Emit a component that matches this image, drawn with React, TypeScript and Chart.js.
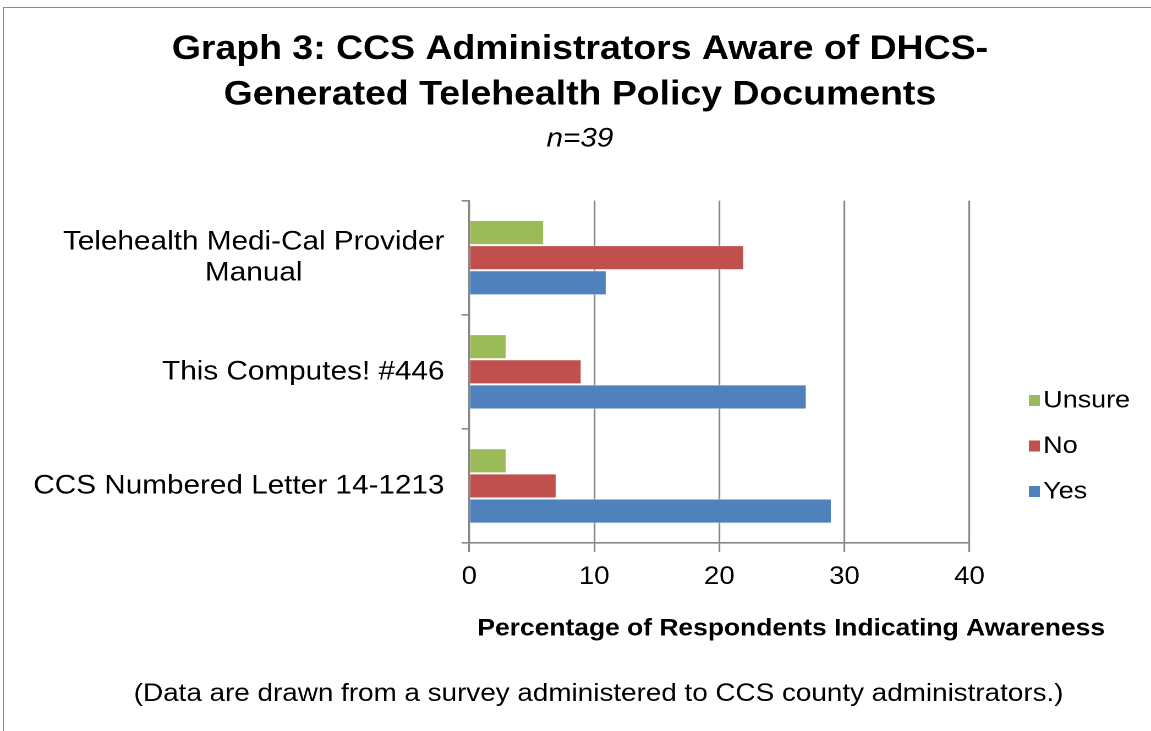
import React, { useEffect, useRef } from 'react';
import { Chart, registerables } from 'chart.js';

Chart.register(...registerables);

// ---- data ----
const categories: string[][] = [
  ['Telehealth Medi-Cal Provider', 'Manual'],
  ['This Computes! #446'],
  ['CCS Numbered Letter 14-1213'],
];
const seriesNames = ['Unsure', 'No', 'Yes'];
const unsureValues = [6, 3, 3];
const noValues = [22, 9, 7];
const yesValues = [11, 27, 29];
const seriesColors = ['#9BBB59', '#C0504D', '#4F81BD'];
const xTicks = [0, 10, 20, 30, 40];
const titleLines = ['Graph 3: CCS Administrators Aware of DHCS-', 'Generated Telehealth Policy Documents'];
const subtitleText = 'n=39';
const xAxisTitle = 'Percentage of Respondents Indicating Awareness';
const footnote = '(Data are drawn from a survey administered to CCS county administrators.)';

// ---- layout constants ----
const FONT = "'Liberation Sans', Arial, Helvetica, sans-serif";
const STRETCH = 1.1004;
const CW = 1046;
const CH = 731;
const GRID = '#888888';
const Y_TICK_LEN = 7;
const Y_LABEL_PAD = 15.5;

const yLabelPlugin = {
  id: 'yLabelPlugin',
  afterDraw(chart: any) {
    const ys = chart.scales.y;
    const ctx = chart.ctx;
    const right = chart.chartArea.left - Y_TICK_LEN - Y_LABEL_PAD;
    ctx.save();
    ctx.font = `27px ${FONT}`;
    ctx.fillStyle = '#000';
    ctx.textAlign = 'center';
    ctx.textBaseline = 'middle';
    (chart.data.labels as string[][]).forEach((lines, i) => {
      const cy = ys.getPixelForValue(i);
      const w = Math.max(...lines.map((l) => ctx.measureText(l).width));
      const cx = right - w / 2;
      const lh = 31;
      lines.forEach((l, j) => ctx.fillText(l, cx, cy + (j - (lines.length - 1) / 2) * lh));
    });
    ctx.restore();
  },
};

const legendPlugin = {
  id: 'customLegend',
  afterDraw(chart: any) {
    const ctx = chart.ctx;
    const x0 = chart.chartArea.right + 54;
    ctx.save();
    ctx.font = `24.5px ${FONT}`;
    ctx.textAlign = 'left';
    ctx.textBaseline = 'middle';
    chart.data.datasets.forEach((ds: any, i: number) => {
      const cy = 400.5 + i * 45.5;
      ctx.fillStyle = ds.backgroundColor;
      ctx.fillRect(x0, cy - 5.5, 10, 11);
      ctx.fillStyle = '#000';
      ctx.fillText(ds.label, x0 + 13, cy);
    });
    ctx.restore();
  },
};

const textPlugin = {
  id: 'extraText',
  afterDraw(chart: any) {
    const ctx = chart.ctx;
    ctx.save();
    ctx.fillStyle = '#000';
    ctx.textAlign = 'center';
    ctx.textBaseline = 'middle';
    ctx.font = `bold 24px ${FONT}`;
    ctx.fillText(xAxisTitle, 719, 629);
    ctx.font = `25.3px ${FONT}`;
    ctx.fillText(footnote, 544, 694);
    ctx.restore();
  },
};

export default function App() {
  const ref = useRef<HTMLCanvasElement | null>(null);

  useEffect(() => {
    if (!ref.current) return;
    const valueSets = [unsureValues, noValues, yesValues];
    const chart = new Chart(ref.current, {
      type: 'bar',
      data: {
        labels: categories as any,
        datasets: seriesNames.map((name, i) => ({
          label: name,
          data: valueSets[i],
          backgroundColor: seriesColors[i],
          borderColor: 'rgba(255,255,255,0.35)',
          borderWidth: 1,
          barPercentage: 1,
          categoryPercentage: 0.66,
          xAxisID: 'x',
          yAxisID: 'y',
        })),
      },
      options: {
        indexAxis: 'y',
        responsive: false,
        animation: false,
        devicePixelRatio: 2,
        layout: { padding: { left: 8, right: 0, top: 0, bottom: 129 } },
        plugins: {
          legend: { display: false },
          tooltip: { enabled: false },
          title: {
            display: true,
            text: titleLines,
            color: '#000',
            font: { family: FONT, size: 34, weight: 'bold', lineHeight: 1.333 },
            padding: { top: 27, bottom: 0 },
          },
          subtitle: {
            display: true,
            text: subtitleText,
            color: '#000',
            font: { family: FONT, size: 27, style: 'italic', lineHeight: 1.2 },
            padding: { top: 5, bottom: 45.6 },
          },
        },
        scales: {
          x: {
            type: 'linear',
            position: 'bottom',
            min: xTicks[0],
            max: xTicks[xTicks.length - 1],
            ticks: {
              stepSize: xTicks[1] - xTicks[0],
              color: '#000',
              padding: 10,
              font: { family: FONT, size: 25, lineHeight: 1.2 },
            },
            grid: { color: GRID, lineWidth: 1.6, tickLength: 9, drawTicks: true },
            border: { display: true, color: GRID, width: 1.6 },
            title: { display: false },
          },
          y: {
            type: 'category',
            position: 'left',
            offset: true,
            ticks: { display: false },
            grid: {
              display: true,
              offset: true,
              drawOnChartArea: false,
              drawTicks: true,
              tickLength: Y_TICK_LEN,
              color: GRID,
              lineWidth: 1.6,
            },
            border: { display: true, color: GRID, width: 1.6 },
            afterFit: (s: any) => {
              s.width = 426.4 - 8;
            },
          },
          y2: {
            type: 'linear',
            position: 'right',
            display: true,
            grid: { display: false },
            border: { display: false },
            ticks: { display: false },
            afterFit: (s: any) => {
              s.width = CW - 881;
            },
          },
        },
      },
      plugins: [yLabelPlugin, legendPlugin, textPlugin],
    } as any);
    return () => chart.destroy();
  }, []);

  return (
    <>
      <div
        style={{
          position: 'fixed',
          left: 3,
          top: 7,
          width: 2000,
          height: 2000,
          borderTop: '1.5px solid #8a8a8a',
          borderLeft: '1.5px solid #8a8a8a',
          pointerEvents: 'none',
        }}
      />
      <div
        style={{
          position: 'fixed',
          left: 0,
          top: 0,
          width: CW,
          height: CH,
          transform: `scaleX(${STRETCH})`,
          transformOrigin: '0 0',
        }}
      >
        <canvas ref={ref} width={CW} height={CH} style={{ width: CW, height: CH, display: 'block' }} />
      </div>
    </>
  );
}
